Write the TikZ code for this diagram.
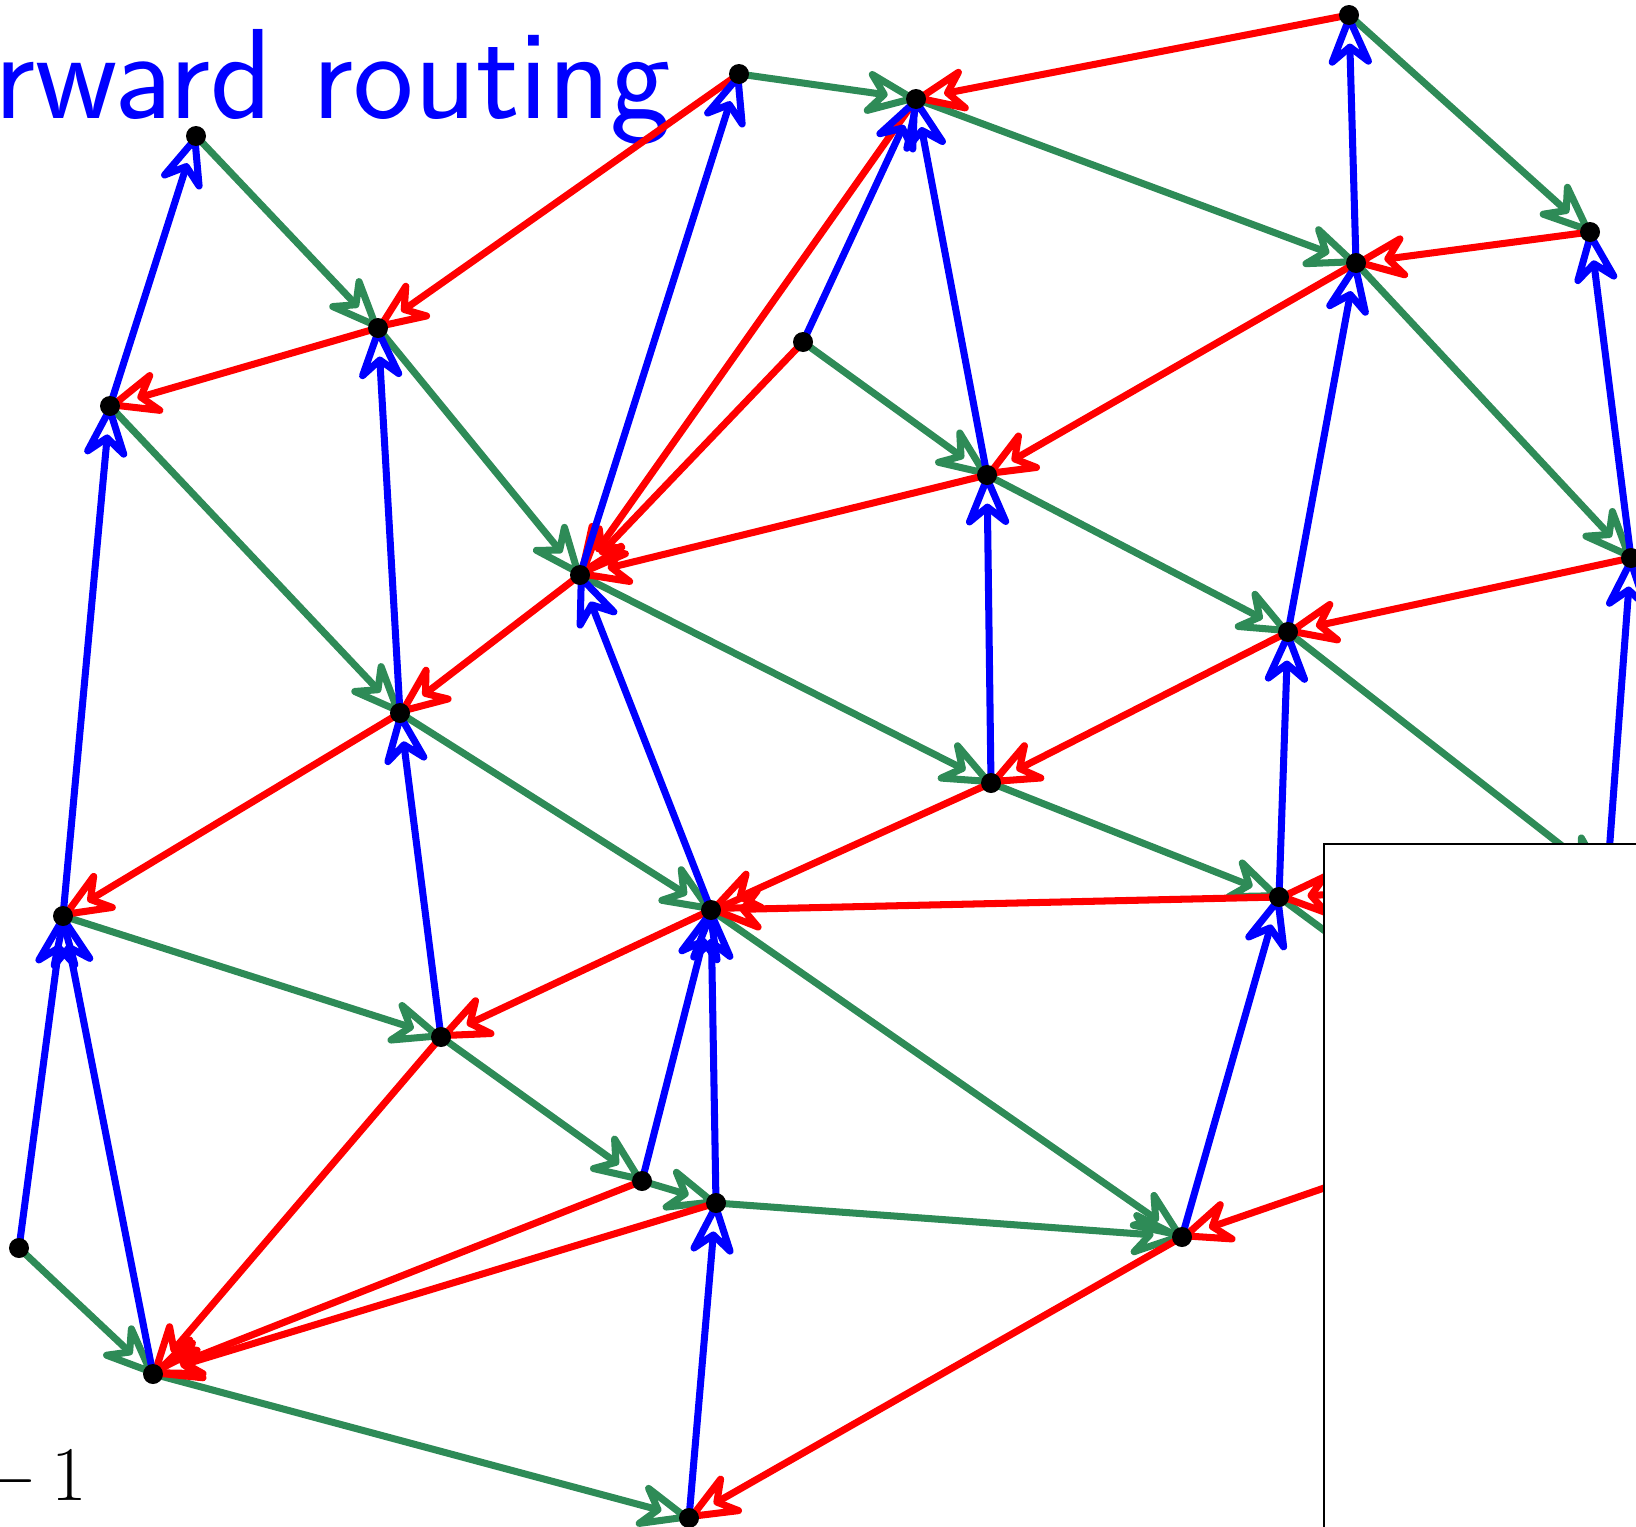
\documentclass[tikz,border=0pt]{standalone}
\usepackage{tikz}
\usetikzlibrary{arrows.meta}
\definecolor{mygreen}{RGB}{46,139,87}
\definecolor{myblue}{RGB}{0,0,255}
\definecolor{myred}{RGB}{255,0,0}
\tikzset{
  garrow/.style={-{Stealth[open, round, length=18pt, width=15pt, inset=6pt]},
    line width=2pt, color=mygreen},
  rarrow/.style={-{Stealth[open, round, length=18pt, width=15pt, inset=6pt]},
    line width=2pt, color=myred},
  barrow/.style={-{Stealth[open, round, length=18pt, width=15pt, inset=6pt]},
    line width=2pt, color=myblue},
  vdot/.style={fill=black}
}

\begin{document}
\begin{tikzpicture}[x=0.01cm, y=-0.01cm]
  \useasboundingbox (0,0) rectangle (1636,1527);
  % Title and footer
  \node[anchor=base west, inner sep=0pt, text=myblue,
    font=\fontsize{36.5}{40}\selectfont\sffamily] (title) at (-6,118)
    {rward routing};
  \node[anchor=base east, inner sep=0pt,
    font=\fontsize{22}{26}\selectfont] (count) at (88,1500)
    {\char"2212\hspace{0.22em}1};
  % Vertices
  \coordinate (a) at (196,136);
  \coordinate (b) at (378,328);
  \coordinate (c) at (110,406);
  \coordinate (d) at (739,74);
  \coordinate (e) at (916,99);
  \coordinate (f) at (1349,15);
  \coordinate (g) at (1356,263);
  \coordinate (h) at (1590,232);
  \coordinate (i) at (803,342);
  \coordinate (j) at (987,475);
  \coordinate (k) at (580,575);
  \coordinate (l) at (1631,558);
  \coordinate (m) at (1288,632);
  \coordinate (n) at (400,713);
  \coordinate (o) at (991,783);
  \coordinate (p) at (63,916);
  \coordinate (q) at (711,910);
  \coordinate (r) at (1279,897);
  \coordinate (s) at (1607,881);
  \coordinate (s2) at (1562,1106);
  \coordinate (t) at (1182,1237);
  \coordinate (u) at (441,1037);
  \coordinate (v) at (642,1181);
  \coordinate (w) at (716,1203);
  \coordinate (x) at (19,1248);
  \coordinate (y) at (153,1374);
  \coordinate (z) at (689,1518);
  % Green edges
  \draw[garrow] (a) -- (b);  \draw[garrow] (d) -- (e);
  \draw[garrow] (f) -- (h);  \draw[garrow] (e) -- (g);
  \draw[garrow] (g) -- (l);  \draw[garrow] (i) -- (j);
  \draw[garrow] (b) -- (k);  \draw[garrow] (c) -- (n);
  \draw[garrow] (j) -- (m);  \draw[garrow] (k) -- (o);
  \draw[garrow] (n) -- (q);  \draw[garrow] (o) -- (r);
  \draw[garrow] (m) -- (s);  \draw[garrow] (r) -- (s2);
  \draw[garrow] (p) -- (u);  \draw[garrow] (u) -- (v);
  \draw[garrow] (v) -- (w);  \draw[garrow] (q) -- (t);
  \draw[garrow] (w) -- (t);  \draw[garrow] (x) -- (y);
  \draw[garrow] (y) -- (z);
  % Red edges
  \draw[rarrow] (f) -- (e);  \draw[rarrow] (d) -- (b);
  \draw[rarrow] (b) -- (c);  \draw[rarrow] (h) -- (g);
  \draw[rarrow] (e) -- (k);  \draw[rarrow] (i) -- (k);
  \draw[rarrow] (j) -- (k);  \draw[rarrow] (g) -- (j);
  \draw[rarrow] (k) -- (n);  \draw[rarrow] (l) -- (m);
  \draw[rarrow] (m) -- (o);  \draw[rarrow] (n) -- (p);
  \draw[rarrow] (o) -- (q);  \draw[rarrow] (r) -- (q);
  \draw[rarrow] (s) -- (r);  \draw[rarrow] (q) -- (u);
  \draw[rarrow] (u) -- (y);  \draw[rarrow] (v) -- (y);
  \draw[rarrow] (w) -- (y);  \draw[rarrow] (t) -- (z);
  \draw[rarrow] (s2) -- (t);
  % Blue edges
  \draw[barrow] (c) -- (a);  \draw[barrow] (k) -- (d);
  \draw[barrow] (i) -- (e);  \draw[barrow] (j) -- (e);
  \draw[barrow] (g) -- (f);  \draw[barrow] (l) -- (h);
  \draw[barrow] (n) -- (b);  \draw[barrow] (m) -- (g);
  \draw[barrow] (o) -- (j);  \draw[barrow] (q) -- (k);
  \draw[barrow] (s) -- (l);  \draw[barrow] (r) -- (m);
  \draw[barrow] (p) -- (c);  \draw[barrow] (u) -- (n);
  \draw[barrow] (x) -- (p);  \draw[barrow] (y) -- (p);
  \draw[barrow] (v) -- (q);  \draw[barrow] (w) -- (q);
  \draw[barrow] (t) -- (r);  \draw[barrow] (z) -- (w);
  % Dots
  \foreach \v in {a,b,c,d,e,f,g,h,i,j,k,l,m,n,o,p,q,r,t,u,v,w,x,y,z}
    \fill[vdot] (\v) circle (10);
  % Blank panel
  \draw[fill=white, line width=0.8pt] (1324,844) rectangle (1700,1600);
\end{tikzpicture}
\end{document}
